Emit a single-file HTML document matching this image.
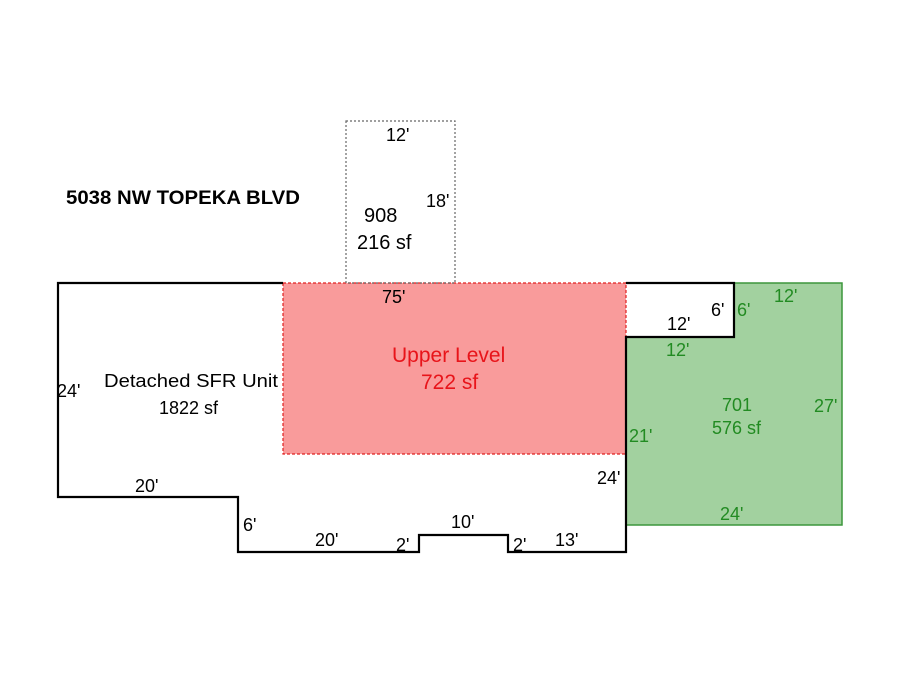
<!DOCTYPE html>
<html><head><meta charset="utf-8"><style>body{margin:0;background:#fff}</style></head><body>
<svg width="900" height="675" xmlns="http://www.w3.org/2000/svg" font-family="Liberation Sans, sans-serif">
<rect width="900" height="675" fill="#fff"/>
<rect x="626" y="283" width="216" height="242" fill="#a2d19f" stroke="#3c963c" stroke-width="1.5"/>
<rect x="626" y="283" width="108" height="54" fill="#fff"/>
<rect x="283" y="283" width="343" height="171" fill="#f99b9b" stroke="#e02020" stroke-width="1.2" stroke-dasharray="3,2"/>
<rect x="346" y="121" width="109" height="162" fill="none" stroke="#666" stroke-width="1.2" stroke-dasharray="2,2"/>
<path d="M283,283 L58,283 L58,497 L238,497 L238,552 L419,552 L419,535 L508,535 L508,552 L626,552 L626,337 L734,337 L734,283 L626,283" fill="none" stroke="#000" stroke-width="2.2"/>
<g font-size="18" fill="#000">
<text x="66" y="204" font-weight="bold" font-size="19" textLength="234" lengthAdjust="spacingAndGlyphs">5038 NW TOPEKA BLVD</text>
<text x="386" y="141">12'</text>
<text x="426" y="207">18'</text>
<text x="364" y="222" font-size="20">908</text>
<text x="357" y="249" font-size="20">216 sf</text>
<text x="382" y="303">75'</text>
<text x="104" y="387" textLength="174" lengthAdjust="spacingAndGlyphs">Detached SFR Unit</text>
<text x="159" y="414">1822 sf</text>
<text x="57" y="397">24'</text>
<text x="135" y="492">20'</text>
<text x="243" y="531">6'</text>
<text x="315" y="546">20'</text>
<text x="396" y="551">2'</text>
<text x="451" y="528">10'</text>
<text x="513" y="551">2'</text>
<text x="555" y="546">13'</text>
<text x="597" y="484">24'</text>
<text x="667" y="330">12'</text>
<text x="711" y="316">6'</text>
</g>
<g font-size="21" fill="#e8141a">
<text x="392" y="362">Upper Level</text>
<text x="421" y="389">722 sf</text>
</g>
<g font-size="18" fill="#228b22">
<text x="737" y="316">6'</text>
<text x="774" y="302">12'</text>
<text x="666" y="356">12'</text>
<text x="722" y="411">701</text>
<text x="712" y="434">576 sf</text>
<text x="814" y="412">27'</text>
<text x="629" y="442">21'</text>
<text x="720" y="520">24'</text>
</g>
</svg>
</body></html>
